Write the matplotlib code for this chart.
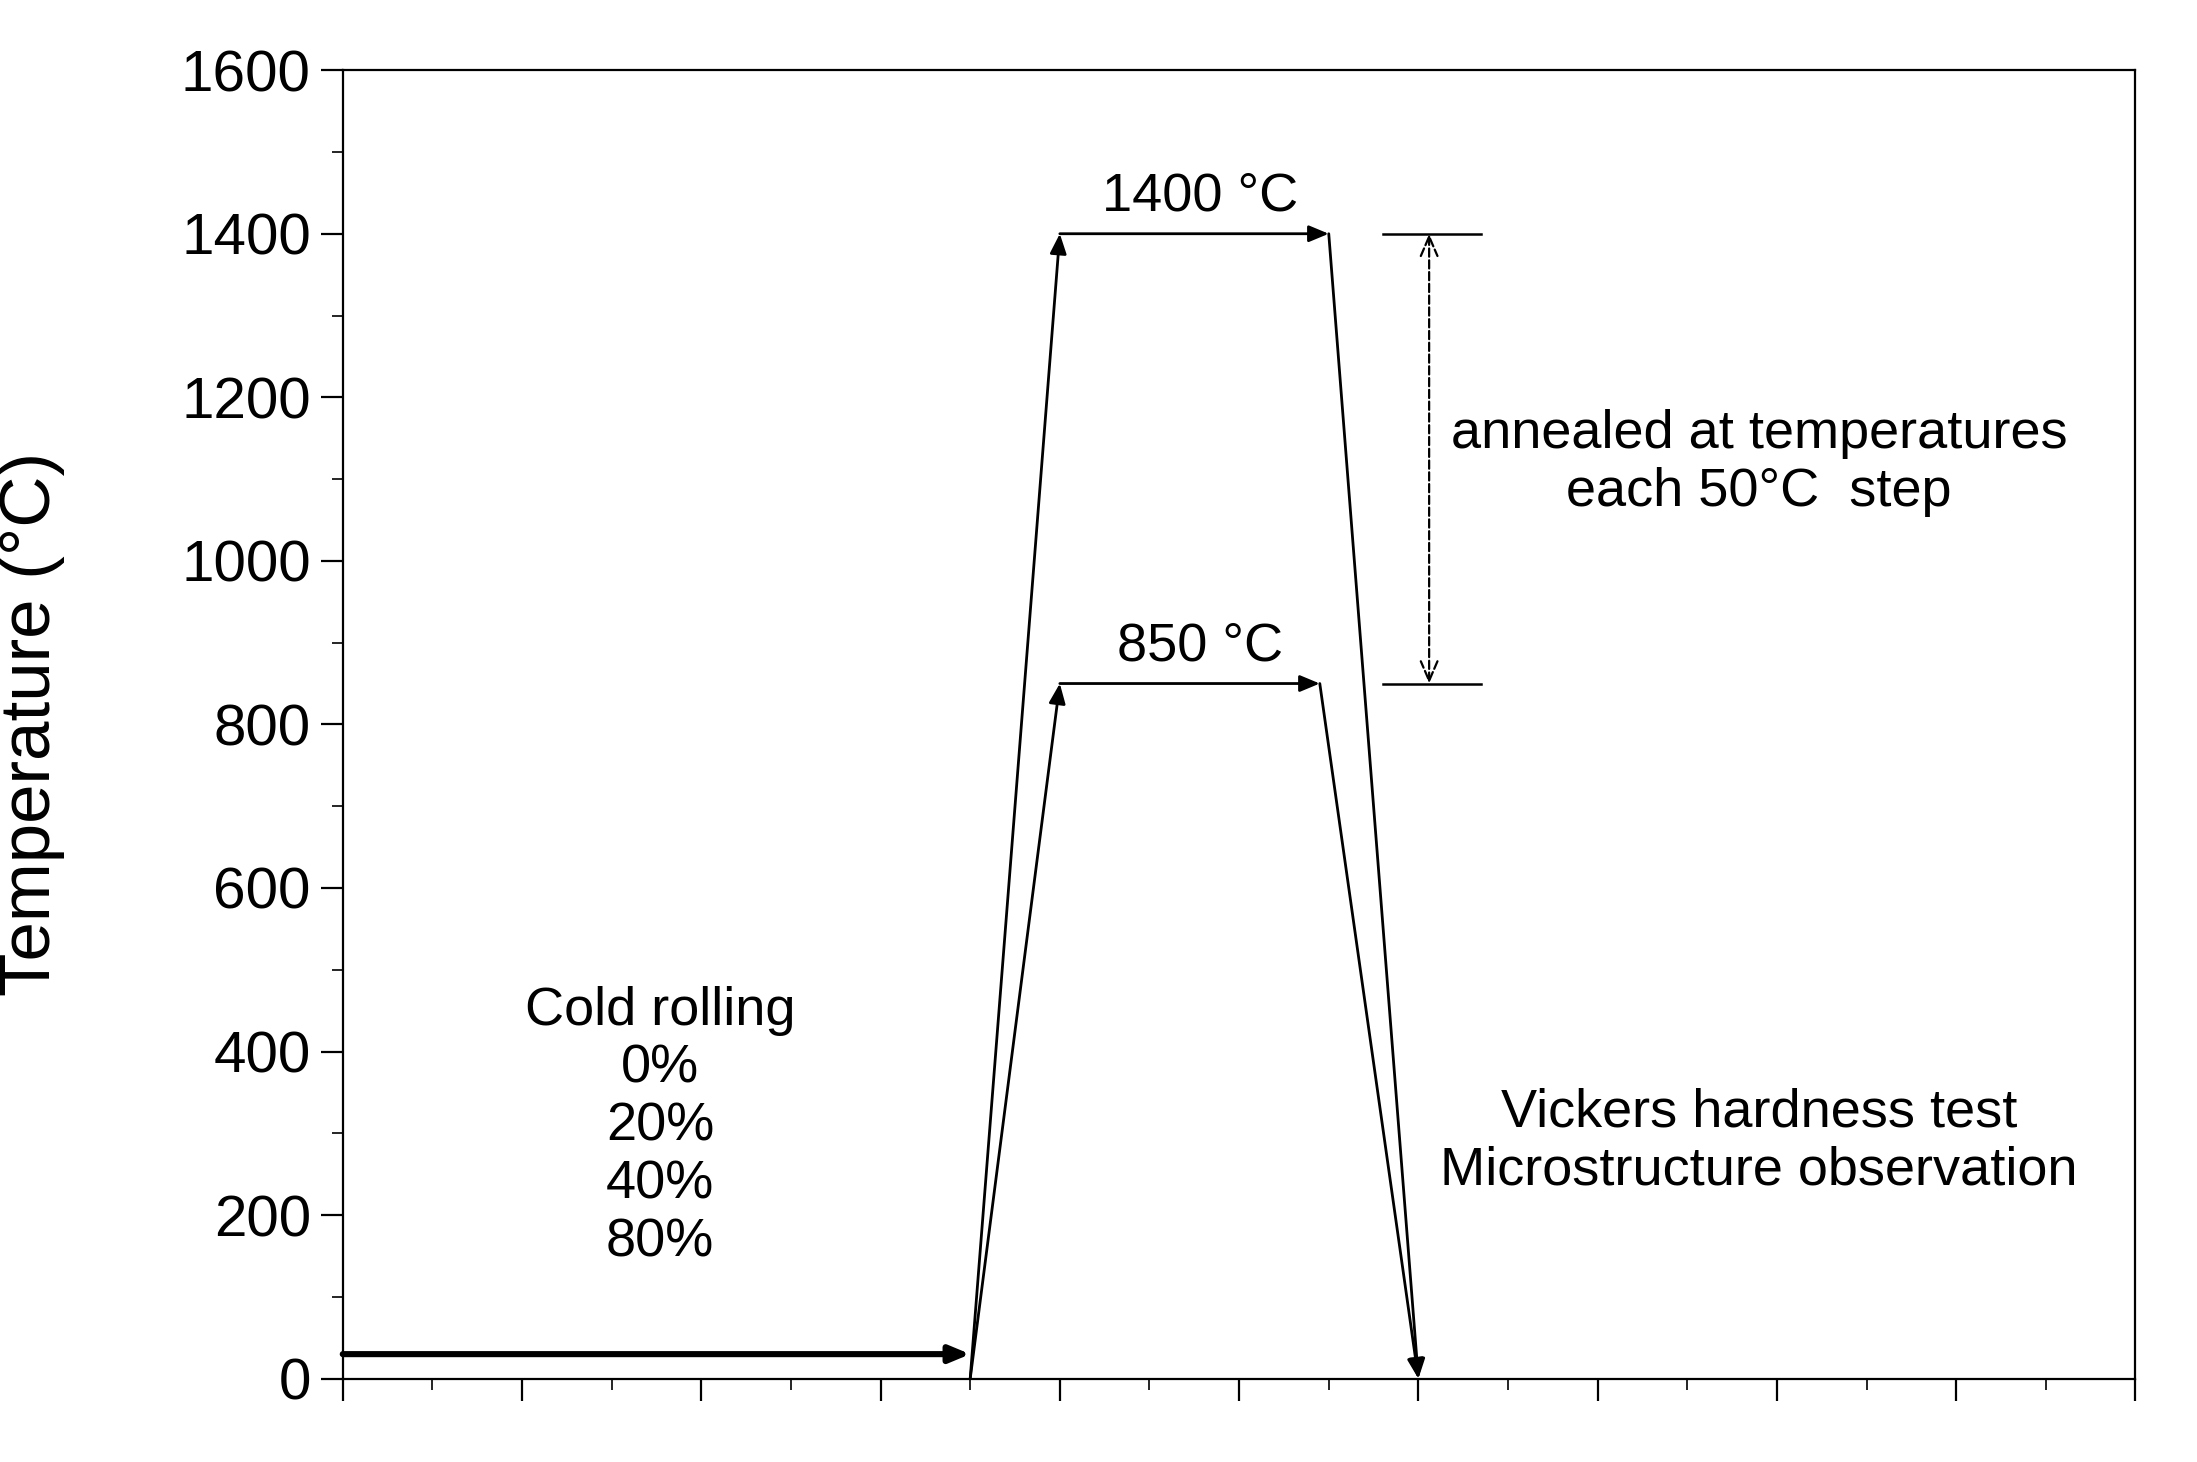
import matplotlib.pyplot as plt
from matplotlib.ticker import MultipleLocator

plt.rcParams['font.family'] = ['Liberation Sans', 'DejaVu Sans']

# heat-treatment schedule (time in arbitrary units, temperature in C)
rolling_t = [0.0, 3.5]
rolling_T = [30, 30]
high_t = [3.5, 4.0, 5.5, 6.0]
high_T = [0, 1400, 1400, 0]
low_t = [3.5, 4.0, 5.45, 6.0]
low_T = [0, 850, 850, 0]
dim_t = [5.8, 6.35]
dim_mid = 6.06

fig = plt.figure(figsize=(10.985, 7.31), dpi=200)
ax = fig.add_axes([0.156, 0.057, 0.816, 0.895])

def arrow(t0, T0, t1, T1, lw=1.0):
    ax.annotate('', xy=(t1, T1), xytext=(t0, T0),
                arrowprops=dict(arrowstyle='-|>,head_length=0.6,head_width=0.25',
                                color='black', lw=lw, shrinkA=0, shrinkB=0))

arrow(rolling_t[0], rolling_T[0], rolling_t[1], rolling_T[1], lw=2.2)
for ts, Ts in [(high_t, high_T), (low_t, low_T)]:
    for i in range(len(ts) - 1):
        arrow(ts[i], Ts[i], ts[i + 1], Ts[i + 1])

for T in [high_T[1], low_T[1]]:
    ax.plot(dim_t, [T, T], color='black', lw=0.9)
ax.annotate('', xy=(dim_mid, high_T[1]), xytext=(dim_mid, low_T[1]),
            arrowprops=dict(arrowstyle='<->,head_length=0.7,head_width=0.3',
                            linestyle='--', color='black', lw=0.8,
                            shrinkA=0, shrinkB=0))

fs = 19.5
ax.text(4.78, 1415, '1400 °C', ha='center', va='bottom', fontsize=fs)
ax.text(4.78, 865, '850 °C', ha='center', va='bottom', fontsize=fs)
ax.text(7.9, 1120, 'annealed at temperatures\neach 50°C  step', ha='center', va='center',
        fontsize=fs, linespacing=1.2)
ax.text(1.77, 480, 'Cold rolling\n0%\n20%\n40%\n80%', ha='center', va='top',
        fontsize=fs, linespacing=1.2)
ax.text(7.9, 290, 'Vickers hardness test\nMicrostructure observation', ha='center',
        va='center', fontsize=fs, linespacing=1.2)

ax.set_xlim(0, 10)
ax.set_ylim(0, 1600)
ax.xaxis.set_major_locator(MultipleLocator(1))
ax.xaxis.set_minor_locator(MultipleLocator(0.5))
ax.yaxis.set_major_locator(MultipleLocator(200))
ax.yaxis.set_minor_locator(MultipleLocator(100))
ax.set_xticklabels([])
ax.tick_params(axis='x', which='both', direction='out')
ax.tick_params(axis='x', which='major', length=8)
ax.tick_params(axis='x', which='minor', length=4)
ax.tick_params(axis='y', which='major', length=8, labelsize=21)
ax.tick_params(axis='y', which='minor', length=4)
ax.set_ylabel('Temperature (°C)', fontsize=25.5)
ax.yaxis.set_label_coords(-0.155, 0.5)
fig.savefig('out.png')
